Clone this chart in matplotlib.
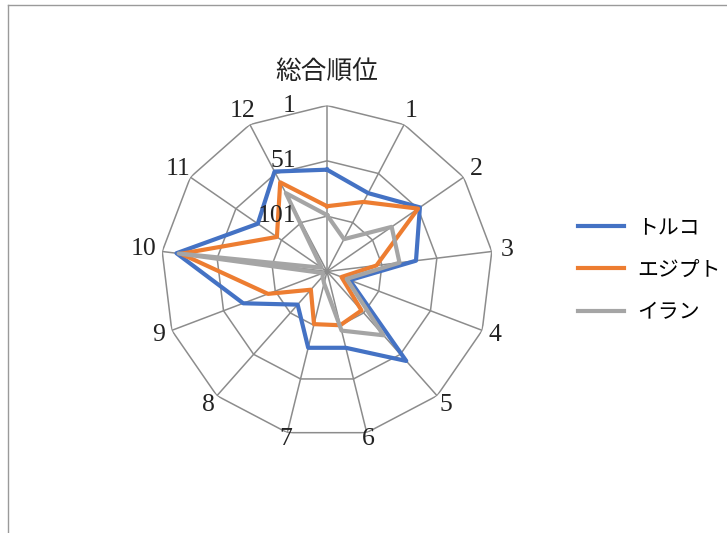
import numpy as np
import matplotlib
matplotlib.use("Agg")
import matplotlib.pyplot as plt
from matplotlib.lines import Line2D
from matplotlib.transforms import offset_copy

plt.rcParams['font.family'] = ['Liberation Serif', 'Noto Sans CJK JP', 'DejaVu Sans']

# category names (first one is the overall rank)
categories = ["総合順位", "1", "2", "3", "4", "5", "6", "7", "8", "9", "10", "11", "12"]
series_names = ["トルコ", "エジプト", "イラン"]
turkey = [59, 71, 49, 70, 129, 43, 80, 80, 111, 70, 14, 75, 49]
egypt = [92, 80, 51, 106, 137, 104, 101, 102, 129, 94, 18, 96, 60]
iran = [100, 118, 80, 85, 132, 74, 96, 140, 145, 147, 16, 145, 71]
rank_ticks = [1, 51, 101, 151]
colors = ["#4472C4", "#ED7D31", "#A5A5A5"]

W, H = 727, 533
fig = plt.figure(figsize=(W / 100, H / 100), dpi=100)

# chart area border (only left and top visible in the original)
grey = "#9A9A9A"
fig.add_artist(Line2D([8 / W, 8 / W], [0, 1 - 5 / H], color=grey, lw=1.0))
fig.add_artist(Line2D([8 / W, 1], [1 - 5 / H, 1 - 5 / H], color=grey, lw=1.0))

cx, cy, R = 327, 271.5, 166
ax = fig.add_axes([(cx - R) / W, (H - cy - R) / H, 2 * R / W, 2 * R / H], projection='polar')
ax.set_theta_zero_location('N')
ax.set_theta_direction(-1)
rmax = rank_ticks[-1] - rank_ticks[0]
ax.set_ylim(0, rmax)
ax.grid(False)
ax.spines['polar'].set_visible(False)
ax.set_xticks([])
ax.set_yticks([])
ax.patch.set_alpha(0)

n = len(categories)
angles = np.arange(n) * 2 * np.pi / n
closed = np.append(angles, angles[0])

def to_r(vals):
    # reversed axis: rank 1 at the outside, 151 in the centre
    v = np.asarray(vals, dtype=float)
    return rank_ticks[-1] - np.append(v, v[0])

# polygon grid and spokes
grid_col = "#8C8C8C"
for t in rank_ticks[:-1]:
    ax.plot(closed, np.full(n + 1, rank_ticks[-1] - t), color=grid_col, lw=1.1, zorder=1)
for a in angles:
    ax.plot([a, a], [0, rmax], color=grid_col, lw=1.1, zorder=1)

lines = []
for name, vals, col in zip(series_names, [turkey, egypt, iran], colors):
    ln, = ax.plot(closed, to_r(vals), color=col, lw=3.0, label=name, zorder=3,
                  solid_joinstyle='round')
    lines.append(ln)

# value axis labels, left of the vertical spoke
lab_tf = offset_copy(ax.transData, fig=fig, x=-31, y=0, units='dots')
for t in rank_ticks[:-1]:
    ax.text(0, rank_ticks[-1] - t, str(t), transform=lab_tf, ha='right', va='center',
            fontsize=18.5, color="#222222")

# category labels around the outside
label_px = [199, 181, 181, 182, 180, 179, 172, 172, 179, 180, 185, 181, 181]
for a, lab, d in zip(angles, categories, label_px):
    ax.text(a, rmax * d / R, lab, ha='center', va='center', fontsize=18.5,
            color="#222222", clip_on=False)

fig.legend(handles=lines, loc='center left', bbox_to_anchor=(568 / W, 1 - 271 / H),
           frameon=False, fontsize=15, handlelength=2.2, handletextpad=0.6,
           labelspacing=1.1, borderpad=0)

fig.savefig("out.png", dpi=100)
